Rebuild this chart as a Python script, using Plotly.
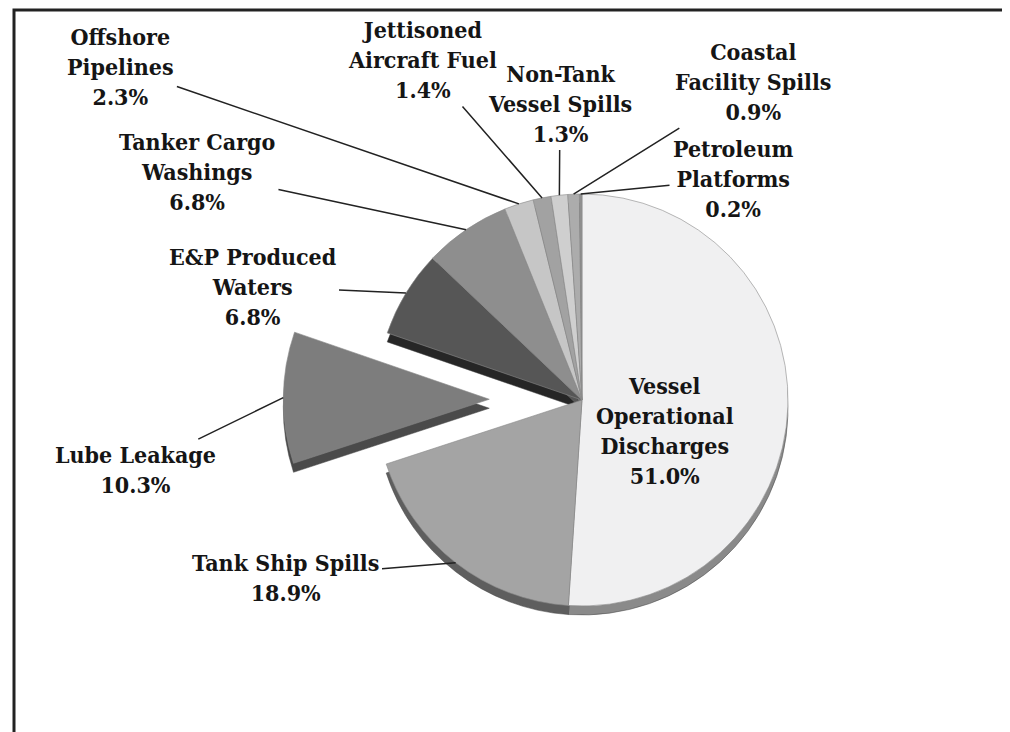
import math
import plotly.graph_objects as go

# ---- data ----
categories = ["Vessel Operational Discharges", "Tank Ship Spills", "Lube Leakage",
              "E&P Produced Waters", "Tanker Cargo Washings", "Offshore Pipelines",
              "Jettisoned Aircraft Fuel", "Non-Tank Vessel Spills",
              "Coastal Facility Spills", "Petroleum Platforms"]
values = [51.0, 18.9, 10.3, 6.8, 6.8, 2.3, 1.4, 1.3, 0.9, 0.2]
label_texts = ["Vessel<br>Operational<br>Discharges<br>51.0%",
               "Tank Ship Spills<br>18.9%",
               "Lube Leakage<br>10.3%",
               "E&P Produced<br>Waters<br>6.8%",
               "Tanker Cargo<br>Washings<br>6.8%",
               "Offshore<br>Pipelines<br>2.3%",
               "Jettisoned<br>Aircraft Fuel<br>1.4%",
               "Non-Tank<br>Vessel Spills<br>1.3%",
               "Coastal<br>Facility Spills<br>0.9%",
               "Petroleum<br>Platforms<br>0.2%"]

# ---- styling ----
colors = ["#f0f0f1", "#a4a4a4", "#7d7d7d", "#565656", "#8e8e8e",
          "#c6c6c6", "#a2a2a2", "#cfcfcf", "#acacac", "#909090"]
side_colors = ["#8a8a8a", "#5e5e5e", "#4a4a4a", "#262626", "#555555",
               "#7a7a7a", "#606060", "#808080", "#666666", "#555555"]
pulls = [0, 0, 0.45, 0, 0, 0, 0, 0, 0, 0]

W, H = 1010, 732
OFF = 8                              # page body margin in the browser
CX, CY, R = 582, 400, 206            # pie centre / radius in screen px
DEPTH = 9                            # fake 3-D thickness (px)
maxpull = max(pulls)
half = R * (1 + maxpull)

def px(x):
    return (x - OFF) / W

def py(y):
    return 1 - (y - OFF) / H

def dom(dy=0):
    return dict(x=[px(CX - half), px(CX + half)],
                y=[py(CY + dy + half), py(CY + dy - half)])

fig = go.Figure()
fig.add_trace(go.Pie(labels=categories, values=values, sort=False, direction="clockwise",
                     rotation=0, pull=pulls, domain=dom(DEPTH), textinfo="none",
                     marker=dict(colors=side_colors, line=dict(color="#444", width=0.5)),
                     showlegend=False, hoverinfo="skip"))
fig.add_trace(go.Pie(labels=categories, values=values, sort=False, direction="clockwise",
                     rotation=0, pull=pulls, domain=dom(0), textinfo="none",
                     marker=dict(colors=colors, line=dict(color="#8a8a8a", width=0.6)),
                     showlegend=False, hovertemplate="%{label}: %{value}%<extra></extra>"))

# label text centres (screen px) -- layout only
label_pos = [(665, 430), (285, 577), (135, 470), (252, 286), (197, 172),
             (120, 67), (422, 60), (560, 103), (753, 82), (733, 179)]
total = sum(values)
font = dict(family="DejaVu Serif Condensed, DejaVu Serif, Liberation Serif",
            size=23, color="#151515", weight="bold")
cum = 0
for i, v in enumerate(values):
    mid = (cum + v / 2) / total
    cum += v
    theta = 2 * math.pi * mid
    ox = CX + pulls[i] * R * math.sin(theta)
    oy = CY - pulls[i] * R * math.cos(theta)
    tx = ox + R * math.sin(theta)
    ty = oy - R * math.cos(theta)
    lx, ly = label_pos[i]
    if i == 0:
        fig.add_annotation(x=px(lx), y=py(ly), xref="paper", yref="paper",
                           text=label_texts[i], showarrow=False, font=font)
    else:
        fig.add_annotation(x=px(tx), y=py(ty), xref="paper", yref="paper",
                           ax=lx - tx, ay=ly - ty, text=label_texts[i], showarrow=True,
                           arrowhead=0, arrowwidth=1.5, arrowcolor="#222",
                           standoff=0, startstandoff=2, font=font)

fig.add_shape(type="rect", xref="paper", yref="paper",
              x0=px(14), x1=1.05, y0=-0.05, y1=py(10),
              line=dict(color="#222", width=3))

fig.update_layout(width=W, height=H, margin=dict(l=0, r=0, t=0, b=0),
                  paper_bgcolor="white", plot_bgcolor="white", showlegend=False)
fig.write_html("out.html")
